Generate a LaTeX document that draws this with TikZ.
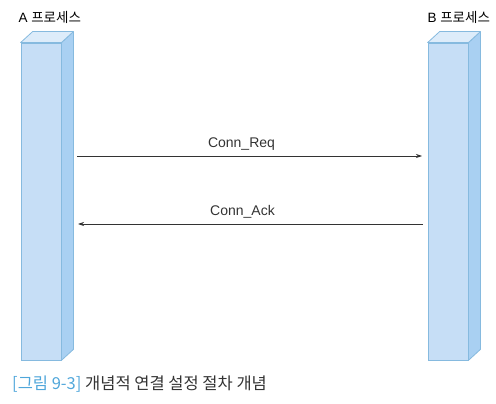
\documentclass[tikz,border=0pt]{standalone}
\usepackage{fontspec}
\setmainfont{Liberation Sans}
\newfontfamily\cjk{Noto Sans CJK KR}
\usetikzlibrary{arrows.meta,positioning}

\definecolor{frontblue}{HTML}{C6DEF6}
\definecolor{sideblue}{HTML}{A9D0F2}
\definecolor{topblue}{HTML}{DDECFA}
\definecolor{edgeblue}{HTML}{86BADF}
\definecolor{capblue}{HTML}{4FA6DA}
\definecolor{msggray}{HTML}{333333}

\tikzset{
  process/.style={draw=edgeblue, fill=frontblue, line width=0.8pt,
    minimum width=40pt, minimum height=317pt, inner sep=0pt},
  face/.style={draw=edgeblue, line width=0.8pt, line join=round},
  msg/.style={draw=msggray, line width=0.7pt,
    -{Stealth[length=6pt,width=4pt]}},
  msglabel/.style={font=\fontsize{14}{16}\selectfont, text=msggray, xshift=-8pt},
  proclabel/.style={font=\fontsize{13.5}{16}\selectfont, text=black, anchor=west}
}

\begin{document}
\begin{tikzpicture}[x=1pt,y=-1pt]
\useasboundingbox (0,0) rectangle (496,404);

% the two processes
\node[process] (procA) at (41,201.5) {};
\node[process] (procB) at (448,201.5) {};
\foreach \p in {procA,procB} {
  \filldraw[face, fill=sideblue] (\p.north east) -- ([shift={(12,-11)}]\p.north east)
    -- ([shift={(12,-11)}]\p.south east) -- (\p.south east) -- cycle;
  \filldraw[face, fill=topblue] (\p.north west) -- ([shift={(12,-11)}]\p.north west)
    -- ([shift={(12,-11)}]\p.north east) -- (\p.north east) -- cycle;
}

\node[proclabel] (nameA) at (15,17) {A {\cjk 프로세스}};
\node[proclabel] (nameB) at (424,17) {B {\cjk 프로세스}};

% messages
\coordinate (reqA) at (77,156);
\coordinate (reqB) at (422,156);
\coordinate (ackB) at (423,224);
\coordinate (ackA) at (78,224);
\draw[msg] (reqA) -- node[msglabel, above=2pt] (req) {Conn\_Req} (reqB);
\draw[msg] (ackB) -- node[msglabel, above=2pt] (ack) {Conn\_Ack} (ackA);

% caption
\node[anchor=west, font=\cjk\fontsize{16.5}{19}\selectfont, inner sep=0pt] (caption) at (12,384)
  {\textcolor{capblue}{[그림 9-3]} \textcolor{msggray}{개념적 연결 설정 절차 개념}};
\end{tikzpicture}
\end{document}
